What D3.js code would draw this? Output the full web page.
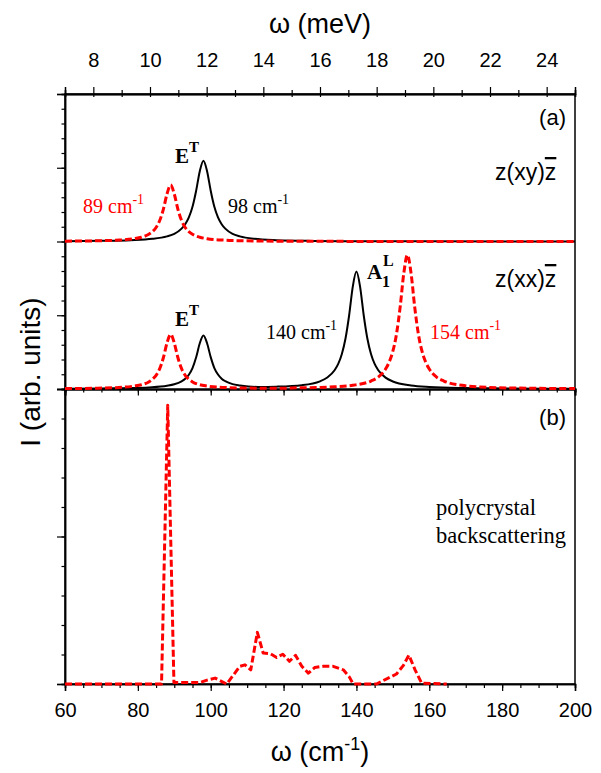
<!DOCTYPE html>
<html>
<head>
<meta charset="utf-8">
<style>
  body { margin: 0; background: #fff; }
  text { fill: #000; }
  .sans { font-family: "Liberation Sans", Arial, sans-serif; }
  .serif { font-family: "Liberation Serif", "Times New Roman", serif; }
</style>
</head>
<body>
<svg width="601" height="773"></svg>
<script src="https://cdn.jsdelivr.net/npm/d3@7"></script>
<script>
// ---- data, [wavenumber cm-1, intensity arb.] ----
// panel (a), z(xy)z geometry
var xyBlack = [[60,0.025],[70,0.047],[78,0.09],[84,0.18],[88,0.35],[90,0.52],[92,0.87],[93,1.17],[94,1.63],[95,2.35],[96,3.44],[97,4.77],[98,5.48],[99,4.77],[100,3.44],[101,2.35],[102,1.63],[103,1.17],[104,0.87],[106,0.52],[108,0.35],[112,0.18],[118,0.09],[128,0.041],[138,0.023],[158,0.01],[200,0.004]];
var xyRed = [[60,0.023],[69,0.049],[74,0.088],[79,0.19],[81,0.29],[83,0.49],[84,0.67],[85,0.95],[86,1.42],[87,2.18],[88,3.22],[89,3.83],[90,3.22],[91,2.18],[92,1.42],[93,0.95],[94,0.67],[95,0.49],[97,0.29],[99,0.19],[104,0.088],[109,0.049],[119,0.022],[139,0.008],[200,0.001]];
// panel (a), z(xx)z geometry
var xxBlack = [[60,0.02],[70,0.04],[78,0.065],[83,0.11],[88,0.22],[90,0.32],[92,0.52],[93,0.69],[94,0.97],[95,1.42],[96,2.15],[97,3.1],[98,3.63],[99,3.1],[100,2.16],[101,1.42],[102,0.98],[103,0.7],[104,0.53],[106,0.33],[108,0.24],[113,0.14],[118,0.16],[125,0.26],[130,0.52],[132,0.78],[134,1.27],[135,1.7],[136,2.37],[137,3.42],[138,5.0],[139,6.94],[140,7.96],[141,6.94],[142,5.0],[143,3.42],[144,2.37],[145,1.7],[146,1.27],[148,0.77],[150,0.51],[155,0.24],[160,0.14],[170,0.066],[180,0.04],[200,0.02]];
var xxRed = [[60,0.03],[69,0.055],[74,0.09],[79,0.2],[81,0.29],[83,0.48],[84,0.66],[85,0.93],[86,1.38],[87,2.12],[88,3.12],[89,3.71],[90,3.12],[91,2.12],[92,1.38],[93,0.93],[94,0.66],[95,0.48],[97,0.29],[99,0.2],[104,0.1],[109,0.066],[119,0.05],[124,0.08],[129,0.1],[134,0.15],[139,0.25],[144,0.54],[146,0.81],[148,1.35],[149,1.83],[150,2.56],[151,3.73],[152,5.55],[153,7.84],[154,9.08],[155,7.84],[156,5.55],[157,3.73],[158,2.56],[159,1.83],[160,1.35],[162,0.81],[164,0.54],[169,0.25],[174,0.14],[184,0.063],[200,0.03]];
// panel (b), polycrystal backscattering
var polyRed = [[60,0],[86.5,0],[88.2,9.45],[89.9,0.05],[97,0.05],[99,0.13],[101.2,0.2],[104.4,0],[108,0.6],[109.4,0.65],[111,0.48],[112.8,1.75],[114.4,1.05],[116.3,1.03],[118.1,0.9],[119.8,1.01],[121.6,0.77],[123.3,0.97],[125,0.6],[126.8,0.37],[128.6,0.56],[130.9,0.6],[133.6,0.6],[136.4,0.48],[138,0.25],[139.1,0],[145.5,0],[151,0.34],[152.9,0.63],[154.4,0.98],[156.1,0.48],[157.9,0.03],[164.8,0]];

var cmTicks = d3.range(60, 201, 20);
var cmMinor = d3.range(60, 201, 5);
var meVTicks = d3.range(8, 25, 2);
var meVMinor = d3.range(7, 26, 1);

// ---- layout ----
var svg = d3.select("svg");
var pLeft = 65, pRight = 575, pTop = 94, pMid = 389, pBottom = 684;
var pSub = (pTop + pMid) / 2;

var x = d3.scaleLinear().domain([60, 200]).range([pLeft, pRight]);
var xMeV = d3.scaleLinear().domain([7, 25]).range([pLeft, pRight]);
var yA = d3.scaleLinear().domain([0, 20]).range([pMid, pTop]);
var yXY = d3.scaleLinear().domain([0, 10]).range([pSub, pTop]);
var yXX = d3.scaleLinear().domain([0, 10]).range([pMid, pSub]);
var yB = d3.scaleLinear().domain([0, 10]).range([pBottom, pMid]);

function styleAxis(g, w) {
  g.selectAll("path.domain").attr("stroke-width", w || 1.5);
  g.selectAll(".tick line").attr("stroke-width", 1.2);
}

// frame
svg.append("rect")
  .attr("x", pLeft).attr("y", pTop)
  .attr("width", pRight - pLeft).attr("height", pBottom - pTop)
  .attr("fill", "none").attr("stroke", "#000").attr("stroke-width", 1.5);

// bottom axis (cm-1)
svg.append("g").attr("transform", "translate(0," + pBottom + ")")
  .call(d3.axisBottom(x).tickValues(cmMinor).tickSize(4).tickFormat(""))
  .call(styleAxis);
var gb = svg.append("g").attr("transform", "translate(0," + pBottom + ")")
  .call(d3.axisBottom(x).tickValues(cmTicks).tickSize(7).tickPadding(12))
  .call(styleAxis);
gb.selectAll("text").attr("font-size", 20).attr("font-family", "Liberation Sans, Arial, sans-serif");

// middle axis (between a and b), ticks pointing down
svg.append("g").attr("transform", "translate(0," + pMid + ")")
  .call(d3.axisBottom(x).tickValues(cmMinor).tickSize(3.5).tickFormat(""))
  .call(styleAxis, 2);
svg.append("g").attr("transform", "translate(0," + pMid + ")")
  .call(d3.axisBottom(x).tickValues(cmTicks).tickSize(6.5).tickFormat(""))
  .call(styleAxis, 2);

// top axis (meV)
svg.append("g").attr("transform", "translate(0," + pTop + ")")
  .call(d3.axisTop(xMeV).tickValues(meVMinor.filter(function(d){ return d % 2; })).tickSize(4).tickFormat(""))
  .call(styleAxis);
var gt = svg.append("g").attr("transform", "translate(0," + pTop + ")")
  .call(d3.axisTop(xMeV).tickValues(meVTicks).tickSize(7).tickPadding(20))
  .call(styleAxis);
gt.selectAll("text").attr("font-size", 20).attr("font-family", "Liberation Sans, Arial, sans-serif");
svg.append("g").attr("transform", "translate(0," + pTop + ")")
  .call(d3.axisBottom(xMeV).tickValues(meVMinor).tickSize(3).tickFormat(""))
  .call(styleAxis);

// left axes
svg.append("g").attr("transform", "translate(" + pLeft + ",0)")
  .call(d3.axisLeft(yA).ticks(20).tickSize(3.5).tickFormat(""))
  .call(styleAxis);
svg.append("g").attr("transform", "translate(" + pLeft + ",0)")
  .call(d3.axisLeft(yA).tickValues([0, 5, 10, 15, 20]).tickSize(8).tickFormat(""))
  .call(styleAxis);
svg.append("g").attr("transform", "translate(" + pLeft + ",0)")
  .call(d3.axisLeft(yB).ticks(10).tickSize(3.5).tickFormat(""))
  .call(styleAxis);
svg.append("g").attr("transform", "translate(" + pLeft + ",0)")
  .call(d3.axisLeft(yB).tickValues([0, 5, 10]).tickSize(8).tickFormat(""))
  .call(styleAxis);

// curves
function drawCurve(data, yScale, red, curve) {
  var line = d3.line()
    .x(function(d) { return x(d[0]); })
    .y(function(d) { return yScale(d[1]); })
    .curve(curve || d3.curveMonotoneX);
  svg.append("path")
    .datum(data)
    .attr("fill", "none")
    .attr("stroke", red ? "#ff0000" : "#000")
    .attr("stroke-width", red ? 3 : 2)
    .attr("stroke-dasharray", red ? "7,3" : null)
    .attr("stroke-linejoin", "round")
    .attr("d", line);
}
drawCurve(xyBlack, yXY, false);
drawCurve(xyRed, yXY, true);
drawCurve(xxBlack, yXX, false);
drawCurve(xxRed, yXX, true);
drawCurve(polyRed, yB, true, d3.curveLinear);

// ---- text ----
function label(xp, yp, cls, size, anchor) {
  return svg.append("text").attr("class", cls)
    .attr("x", xp).attr("y", yp)
    .attr("font-size", size)
    .attr("text-anchor", anchor || "start");
}

// axis titles
label(320, 33, "sans", 27, "middle").text("\u03c9 (meV)");
var bt = label(320, 761, "sans", 27, "middle");
bt.append("tspan").text("\u03c9 (cm");
bt.append("tspan").text("-1").attr("font-size", 18).attr("dy", -11);
bt.append("tspan").text(")").attr("dy", 11);
svg.append("text").attr("class", "sans")
  .attr("transform", "translate(40,372) rotate(-90)")
  .attr("text-anchor", "middle").attr("font-size", 28)
  .text("I (arb. units)");

// panel tags
label(566, 125, "sans", 22, "end").text("(a)");
label(566, 425, "sans", 22, "end").text("(b)");

function geom(yp, inner) {
  var t = label(495, yp, "sans", 23);
  t.append("tspan").text("z(" + inner + ")");
  t.append("tspan").text("z").style("text-decoration", "overline");
}
geom(180, "xy");
geom(287, "xx");

// peak labels
function wn(xp, yp, val, color) {
  var t = label(xp, yp, "serif", 20).style("fill", color);
  t.append("tspan").text(val + " cm");
  t.append("tspan").text("-1").attr("font-size", 14).attr("dy", -9);
}
wn(83, 213, "89", "#ff0000");
wn(228, 213, "98", "#000");
wn(266, 339, "140", "#000");
wn(430, 339, "154", "#ff0000");

function eT(xp, yp) {
  var t = label(xp, yp, "serif", 21).attr("font-weight", "bold");
  t.append("tspan").text("E");
  t.append("tspan").text("T").attr("font-size", 15).attr("dy", -11);
}
eT(175, 163);
eT(175, 326);

label(367, 279, "serif", 21).attr("font-weight", "bold").text("A");
label(382, 287, "serif", 16).attr("font-weight", "bold").text("1");
label(383, 266, "serif", 16).attr("font-weight", "bold").text("L");

label(436, 515, "serif", 22.5).text("polycrystal");
label(436, 543, "serif", 22.5).text("backscattering");
</script>
</body>
</html>
